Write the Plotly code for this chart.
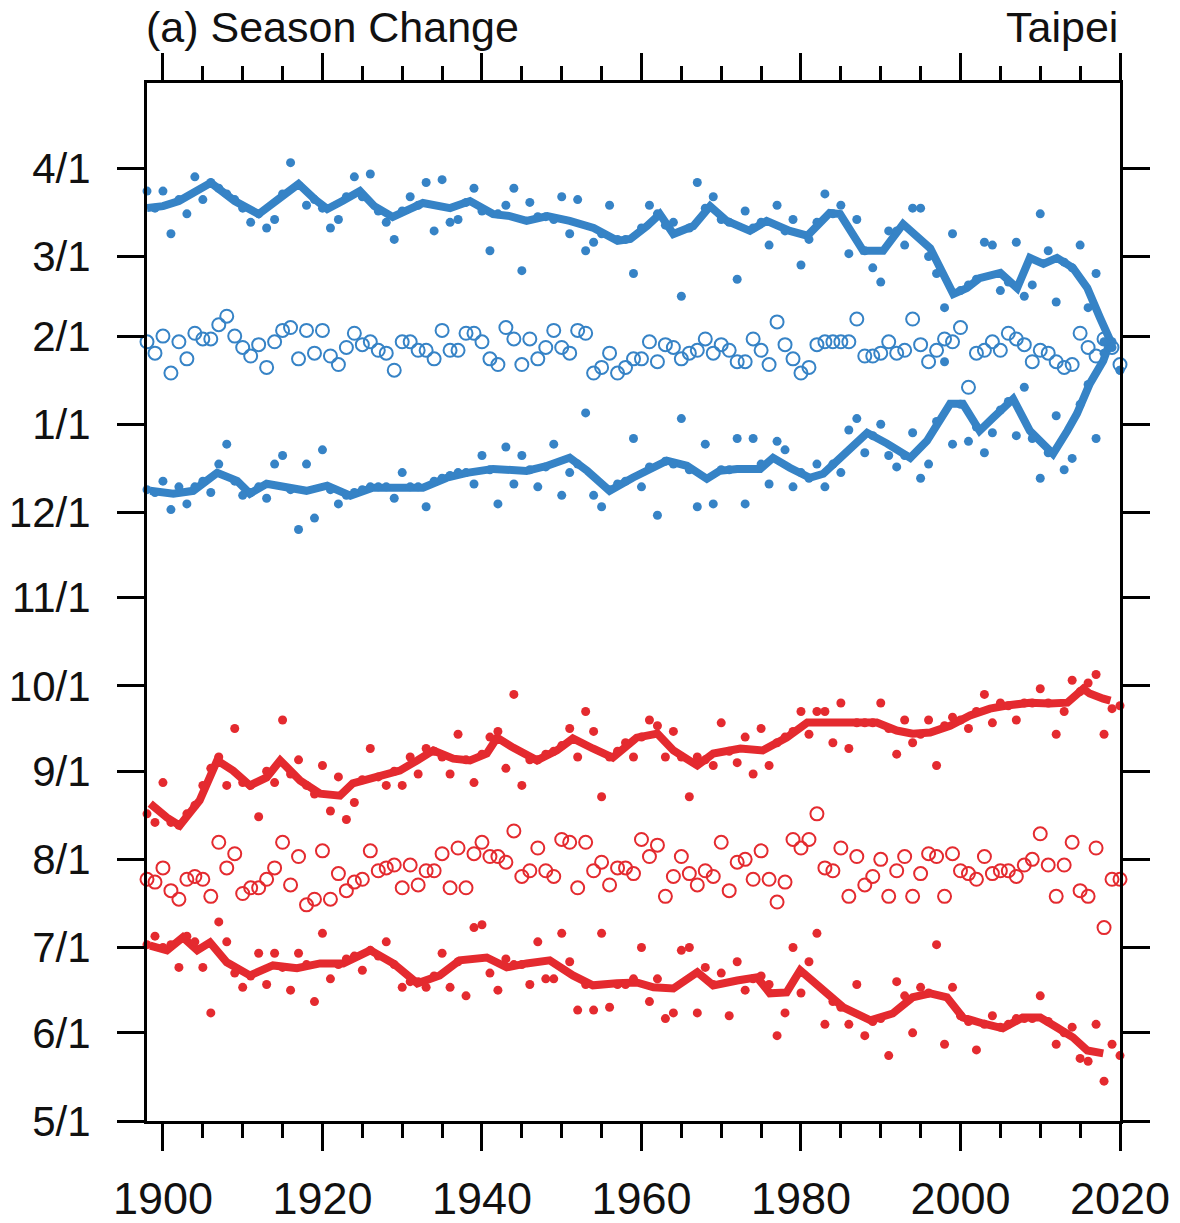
import plotly.graph_objects as go

# Season onset/offset dates for Taipei, stored as days after May 1
YEARS = list(range(1898, 2021))

# Winter end (filled blue dots)
WINTER_END = [
    327, 321, 327, 312, 324, 319, 332, 324, 330, 328,
    326, 324, 321, 316, 319, 314, 317, 326, 337, 329,
    322, 324, 321, 314, 317, 325, 332, 325, 333, 320,
    316, 310, 320, 325, 322, 330, 313, 331, 316, 317,
    323, 328, 320, 306, 319, 322, 328, 299, 323, 318,
    318, 317, 325, 312, 324, 306, 309, 312, 322, 310,
    310, 298, 314, 322, 319, 315, 316, 290, 314, 330,
    321, 325, 317, 316, 296, 320, 314, 316, 308, 322,
    313, 317, 301, 310, 316, 326, 319, 322, 305, 317,
    306, 300, 295, 313, 313, 308, 321, 321, 304, 298,
    286, 312, 292, 294, 296, 309, 308, 292, 295, 309,
    290, 294, 319, 306, 288, 302, 300, 308, 286, 298,
    274, 272, 264,
]

# Winter middle (open blue circles)
WINTER_MID = [
    274, 270, 276, 263, 274, 268, 277, 275, 275, 280,
    283, 276, 272, 269, 273, 265, 274, 278, 279, 268,
    278, 270, 278, 269, 266, 272, 277, 273, 274, 271,
    270, 264, 274, 274, 271, 271, 268, 278, 271, 271,
    277, 277, 274, 268, 266, 279, 275, 266, 275, 268,
    272, 278, 272, 270, 278, 277, 263, 265, 270, 263,
    265, 268, 268, 274, 267, 273, 272, 268, 270, 271,
    275, 270, 273, 271, 267, 267, 275, 271, 266, 281,
    273, 268, 263, 265, 273, 274, 274, 274, 274, 282,
    269, 269, 270, 274, 270, 271, 282, 273, 267, 271,
    275, 274, 279, 258, 270, 271, 274, 271, 277, 275,
    273, 267, 271, 270, 267, 265, 266, 277, 272, 269,
    275, 272, 266,
]

# Winter start (filled blue dots)
WINTER_START = [
    222, 221, 225, 215, 223, 217, 223, 225, 221, 231,
    238, 225, 220, 221, 223, 219, 231, 234, 222, 208,
    231, 212, 236, 222, 217, 220, 221, 222, 223, 223,
    223, 219, 228, 223, 223, 216, 225, 226, 227, 228,
    228, 224, 234, 229, 217, 237, 224, 234, 229, 223,
    230, 238, 220, 228, 231, 249, 220, 216, 222, 224,
    225, 240, 223, 230, 213, 232, 231, 247, 229, 216,
    238, 217, 229, 229, 240, 217, 240, 231, 224, 239,
    236, 223, 228, 226, 231, 223, 231, 228, 243, 247,
    235, 241, 245, 234, 230, 234, 242, 226, 231, 246,
    267, 238, 252, 239, 244, 235, 242, 250, 253, 241,
    258, 240, 226, 235, 248, 229, 233, 252, 259, 240,
    270, 274, 264,
]

# Summer end (filled red dots)
SUMMER_END = [
    108, 105, 119, 105, 104, 108, 111, 118, 124, 128,
    118, 138, 119, 118, 107, 123, 119, 141, 122, 127,
    118, 115, 125, 109, 121, 106, 112, 120, 131, 121,
    118, 123, 118, 128, 122, 131, 130, 128, 122, 136,
    127, 119, 129, 135, 137, 124, 150, 118, 127, 127,
    129, 130, 132, 138, 128, 144, 137, 114, 128, 130,
    133, 128, 135, 141, 139, 128, 137, 128, 114, 128,
    127, 125, 140, 130, 126, 135, 122, 138, 125, 133,
    135, 137, 144, 136, 144, 144, 133, 147, 131, 140,
    140, 140, 147, 138, 129, 141, 133, 136, 141, 125,
    139, 142, 141, 138, 144, 150, 140, 147, 146, 141,
    147, 147, 152, 147, 136, 144, 155, 151, 154, 157,
    136, 145, 146,
]

# Summer middle (open red circles)
SUMMER_MID = [
    85, 84, 89, 81, 78, 85, 86, 85, 79, 98,
    89, 94, 80, 82, 82, 85, 89, 98, 83, 93,
    76, 78, 95, 78, 87, 81, 84, 85, 95, 88,
    89, 90, 82, 90, 83, 88, 88, 94, 82, 96,
    82, 94, 98, 93, 93, 91, 102, 86, 88, 96,
    88, 86, 99, 98, 82, 98, 88, 91, 83, 89,
    89, 87, 99, 93, 97, 79, 86, 93, 87, 83,
    88, 86, 98, 81, 91, 92, 85, 95, 85, 77,
    84, 99, 96, 99, 108, 89, 88, 96, 79, 93,
    83, 86, 92, 79, 88, 93, 79, 87, 94, 93,
    79, 94, 88, 87, 85, 93, 87, 88, 88, 86,
    90, 92, 101, 90, 79, 90, 98, 81, 79, 96,
    68, 85, 85,
]

# Summer start (filled red dots)
SUMMER_START = [
    62, 65, 61, 62, 54, 65, 63, 54, 38, 70,
    63, 52, 47, 51, 59, 48, 59, 54, 46, 59,
    55, 42, 66, 50, 55, 57, 58, 53, 60, 58,
    63, 55, 47, 49, 49, 47, 51, 59, 47, 56,
    44, 68, 69, 52, 46, 57, 55, 55, 48, 63,
    50, 50, 66, 56, 39, 48, 39, 66, 40, 48,
    48, 50, 61, 42, 50, 36, 38, 60, 61, 38,
    54, 48, 52, 37, 56, 46, 50, 51, 48, 30,
    38, 61, 45, 56, 66, 34, 42, 40, 34, 48,
    30, 35, 36, 23, 49, 44, 31, 47, 45, 62,
    27, 47, 37, 35, 25, 34, 37, 33, 34, 36,
    36, 36, 44, 35, 27, 31, 33, 22, 21, 34,
    14, 27, 23,
]

# Smoothed curves (year, days after May 1)
WE_TREND_YR = [1898, 1900, 1902, 1903.5, 1906, 1909, 1912, 1914.5, 1917, 1919,
               1920.6, 1922.5, 1924.7, 1926.5, 1928.8, 1931, 1932.6, 1936, 1938.5,
               1941.4, 1943.5, 1945.6, 1948.2, 1951, 1954, 1957, 1958.6, 1960.7,
               1962.3, 1964, 1966.5, 1968.6, 1970.7, 1973.6, 1975.7, 1978.6, 1980.8,
               1983.6, 1984.9, 1987.8, 1990.3, 1992.8, 1996.2, 1999.1, 2000.8, 2002.4,
               2005, 2007.1, 2008.7, 2010.4, 2012.1, 2014.1, 2015.9, 2017.5, 2018.8]
WE_TREND = [321.0, 321.7, 323.5, 326.0, 329.9, 323.5, 318.9, 324.2, 329.5, 324.2,
            320.7, 323.5, 327.0, 321.7, 317.9, 320.7, 322.8, 321.0, 323.5,
            318.9, 318.2, 316.5, 318.2, 316.5, 314.0, 309.5, 310.2, 314.7,
            318.9, 311.9, 314.7, 321.7, 316.5, 313.0, 316.5, 313.0, 311.3,
            319.3, 318.9, 306.0, 306.0, 315.4, 306.9, 290.8, 292.9, 296.4,
            298.2, 292.9, 303.5, 301.4, 303.5, 300.0, 292.9, 282.4, 274.3]

WS_TREND_YR = [1898.4, 1901.3, 1903.8, 1906.8, 1909.3, 1910.9, 1913, 1915.6, 1918,
               1920.6, 1923.5, 1926.3, 1929.7, 1932.6, 1935.6, 1938.1, 1941.4, 1945.6,
               1948.2, 1951, 1953.2, 1956, 1958.9, 1963.2, 1965.7, 1968.2, 1969.8,
               1972, 1974.9, 1976.5, 1978.6, 1981.1, 1982.8, 1985.8, 1988.3, 1990.8,
               1993.7, 1995.8, 1998.7, 2000.3, 2002.4, 2004.1, 2006.6, 2008.7, 2010.9,
               2011.6, 2013.4, 2014.6, 2016.2, 2017.9, 2018.8]
WS_TREND = [221.6, 220.6, 221.6, 227.9, 225.1, 220.6, 224.1, 222.7, 221.6,
            223.4, 219.9, 222.7, 222.7, 222.7, 226.2, 227.9, 229.3, 228.6,
            230.4, 233.2, 228.6, 221.6, 226.2, 232.2, 230.4, 225.8, 228.6,
            229.3, 229.3, 233.2, 229.7, 226.2, 227.6, 235.7, 242.0, 238.2,
            233.2, 239.2, 252.2, 252.2, 242.7, 247.3, 253.9, 242.7, 236.7,
            234.6, 242.7, 248.7, 259.2, 267.3, 274.3]

SE_TREND_YR = [1898.4, 1900.5, 1902.1, 1904.6, 1906.8, 1908.8, 1910.9, 1913, 1914.7,
               1917.2, 1919.7, 1922.2, 1923.8, 1926.3, 1929.7, 1931.9, 1933.9, 1936.4,
               1938.5, 1940.6, 1941.9, 1943.9, 1946.9, 1949.4, 1951.4, 1953.9, 1956.4,
               1959.4, 1962, 1964, 1967, 1969, 1972.4, 1975.2, 1978.2, 1980.8, 1983.6,
               1987, 1989.5, 1992, 1994, 1996.2, 1998.7, 2001.2, 2003.7, 2005.8, 2008.7,
               2011.2, 2013.4, 2015.4, 2016.2, 2017.9, 2018.8]
SE_TREND = [111.6, 106.7, 103.9, 112.7, 126.8, 123.2, 118.0, 120.8, 126.8,
            119.7, 115.1, 114.4, 118.7, 120.8, 123.2, 126.8, 130.3, 127.4,
            126.8, 129.2, 134.8, 131.3, 126.8, 130.3, 134.5, 131.0, 127.8,
            134.8, 136.2, 130.3, 125.0, 129.2, 131.0, 130.3, 134.8, 140.1, 140.1,
            140.1, 140.1, 137.3, 136.2, 136.6, 139.0, 142.6, 145.0, 146.1, 147.1,
            146.8, 147.1, 152.0, 150.3, 148.5, 147.8]

SS_TREND_YR = [1898.4, 1900.5, 1902.5, 1904.3, 1905.9, 1908, 1910.9, 1913.8, 1916.8,
               1919.7, 1922.6, 1926, 1928.9, 1931.9, 1934.7, 1937.2, 1940.6, 1943.1,
               1945.6, 1948.5, 1951.4, 1953.9, 1956.9, 1959.4, 1961.5, 1964, 1967,
               1969, 1972, 1974.5, 1976.1, 1978.2, 1979.9, 1982.4, 1985.3, 1988.7,
               1991.5, 1994, 1996.2, 1998.3, 2000.3, 2002.8, 2005.3, 2007.8, 2010,
               2012.1, 2014.1, 2015.9, 2017.9]
SS_TREND = [61.7, 60.0, 64.6, 60.0, 62.8, 55.8, 51.2, 54.7, 53.7,
            55.4, 55.4, 60.0, 55.4, 48.4, 51.2, 56.5, 57.5, 54.0,
            55.4, 56.5, 51.2, 47.7, 48.4, 48.7, 47.0, 46.6, 52.3,
            47.7, 49.4, 50.5, 44.9, 45.2, 53.0, 46.6, 40.0, 35.4,
            37.8, 43.5, 44.9, 43.5, 36.4, 34.3, 32.6, 36.4, 36.4,
            32.9, 29.4, 24.8, 23.8]

# Month-start ticks (days after May 1)
MONTH_TICKS = [0, 31, 61, 92, 123, 153, 184, 214, 245, 276, 304, 335]
MONTH_LABELS = ["5/1", "6/1", "7/1", "8/1", "9/1", "10/1", "11/1",
                "12/1", "1/1", "2/1", "3/1", "4/1"]
YEAR_TICKS = [1900, 1920, 1940, 1960, 1980, 2000, 2020]

BLUE = "#3683c6"
RED = "#e42a2f"
FONT = "Liberation Sans, Arial, Helvetica, sans-serif"

fig = go.Figure()


def add_trend(x, y, color):
    fig.add_trace(go.Scatter(x=x, y=y, mode="lines",
                             line=dict(color=color, width=8),
                             hoverinfo="skip", cliponaxis=False))


def add_dots(y, color):
    fig.add_trace(go.Scatter(x=YEARS, y=y, mode="markers", cliponaxis=False,
                             marker=dict(symbol="circle", size=9, color=color,
                                         line=dict(width=0))))


def add_rings(y, color):
    fig.add_trace(go.Scatter(x=YEARS, y=y, mode="markers", cliponaxis=False,
                             marker=dict(symbol="circle-open", size=13, color=color,
                                         line=dict(width=2, color=color))))


add_trend(WE_TREND_YR, WE_TREND, BLUE)
add_trend(WS_TREND_YR, WS_TREND, BLUE)
add_trend(SE_TREND_YR, SE_TREND, RED)
add_trend(SS_TREND_YR, SS_TREND, RED)

add_dots(WINTER_END, BLUE)
add_dots(WINTER_START, BLUE)
add_rings(WINTER_MID, BLUE)
add_dots(SUMMER_END, RED)
add_dots(SUMMER_START, RED)
add_rings(SUMMER_MID, RED)

fig.update_layout(
    width=1180, height=1223,
    margin=dict(l=147, r=60, t=83, b=102, autoexpand=False),
    paper_bgcolor="white", plot_bgcolor="white",
    showlegend=False,
    font=dict(family=FONT, color="black", size=42),
    annotations=[
        dict(text="(a) Season Change", xref="paper", yref="paper",
             x=0, y=1.054, xanchor="left", yanchor="middle", xshift=-3,
             showarrow=False, font=dict(size=43, family=FONT, color="#111")),
        dict(text="Taipei", xref="paper", yref="paper",
             x=1, y=1.054, xanchor="right", yanchor="middle",
             showarrow=False, font=dict(size=43, family=FONT, color="#111")),
    ],
)

fig.update_xaxes(
    range=[1898, 2020], tickvals=YEAR_TICKS, automargin=False,
    ticks="outside", ticklen=27, tickwidth=3, tickcolor="black",
    minor=dict(dtick=5, tick0=1900, ticks="outside", ticklen=14,
               tickwidth=3, tickcolor="black", showgrid=False),
    showline=True, linewidth=3, linecolor="black", mirror="ticks",
    showgrid=False, zeroline=False, ticklabelstandoff=9,
    tickfont=dict(size=45, family=FONT, color="#111"),
)
fig.update_yaxes(
    range=[0, 365], tickvals=MONTH_TICKS, ticktext=MONTH_LABELS, automargin=False,
    ticks="outside", ticklen=27, tickwidth=3, tickcolor="black",
    showline=True, linewidth=3, linecolor="black", mirror="ticks",
    showgrid=False, zeroline=False, ticklabelstandoff=18,
    tickfont=dict(size=42, family=FONT, color="#111"),
)

fig.write_html("out.html")
